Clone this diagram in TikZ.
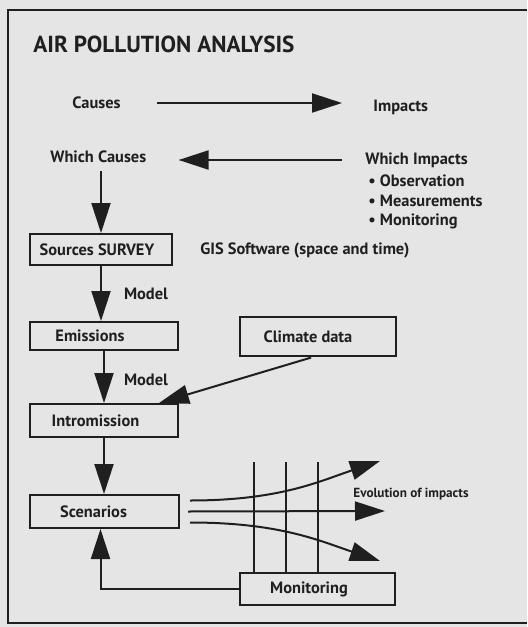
\documentclass[tikz,border=0pt]{standalone}
\usepackage{fontspec}
\setmainfont{PT Sans}
\usetikzlibrary{arrows.meta,positioning}
\definecolor{paper}{gray}{0.9}
\definecolor{ink}{gray}{0.12}
\newcommand\ttlfont{\bfseries\fontsize{11.6}{14}\selectfont}
\newcommand\lblfont{\bfseries\fontsize{8.2}{10}\selectfont}
\newcommand\smlfont{\bfseries\fontsize{6.6}{8}\selectfont}

\begin{document}
\begin{tikzpicture}[x=0.5pt, y=-0.5pt, color=ink,
  my box/.style={draw, line width=1pt, inner sep=0pt, font=\lblfont, execute at end node={\hspace*{#1}}},
  my box/.default=10pt,
  my label/.style={anchor=west, inner sep=0pt, font=\lblfont},
  my arrow/.style={line width=1pt, -{Triangle[length=15pt,width=9.5pt]}}]
  \fill [paper] (0,0) rectangle (527,627);
  \useasboundingbox (0,0) rectangle (527,627);
  \draw [line width=1.3pt] (527,10) -- (8,10) -- (8,623) -- (527,623);
  \node (title) [anchor=west, inner sep=0pt, font=\ttlfont] at (33,44) {AIR POLLUTION ANALYSIS};
  \node (causes) [my label] at (72,103) {Causes};
  \node (impacts) [my label] at (373,107) {Impacts};
  \node (which causes) [my label] at (50,157) {Which Causes};
  \node (which impacts) [my label] at (365,160) {Which Impacts};
  \node (observation) [my label] at (368,181) {• Observation};
  \node (measurements) [my label] at (368,201) {• Measurements};
  \node (monitoring item) [my label] at (368,221) {• Monitoring};
  \node (sources) [my box=4pt, minimum width=71pt, minimum height=15.5pt] at (101,249.5) {Sources SURVEY};
  \node (gis) [my label] at (200,250) {GIS Software (space and time)};
  \node (emissions) [my box=14pt, minimum width=74pt, minimum height=14pt] at (104,336) {Emissions};
  \node (climate) [my box, minimum width=78pt, minimum height=19.5pt] at (318,336.5) {Climate data};
  \node (intromission) [my box=8.5pt, minimum width=74pt, minimum height=16.5pt] at (104,420.5) {Intromission};
  \node (scenarios) [my box=11pt, minimum width=74.5pt, minimum height=16.5pt] at (104.5,511.5) {Scenarios};
  \node (monitoring) [my box=8.5pt, minimum width=77.5pt, minimum height=16pt] at (317.5,589) {Monitoring};
  \node (evolution) [anchor=west, inner sep=0pt, font=\smlfont] at (353,494) {Evolution of impacts};
  \coordinate (evo up) at (380,461);
  \coordinate (evo mid) at (385,511);
  \coordinate (evo down) at (380,561);
  % causes and impacts
  \draw [my arrow, shorten <=18pt, shorten >=15.5pt] (causes.east) -- (causes.east -| impacts.west);
  \draw [my arrow, shorten <=11.5pt, shorten >=16pt] (which impacts.west) -- (which impacts.west -| which causes.east);
  % main chain
  \draw [my arrow, shorten <=4pt] (sources.north |- which causes.south) -- (sources.north);
  \draw [my arrow] (sources.south) -- (sources.south |- emissions.north) node [my label, midway, xshift=11pt] {Model};
  \draw [my arrow] (emissions.south) -- (emissions.south |- intromission.north) node [my label, pos=0.55, xshift=9.5pt] {Model};
  \draw [my arrow, shorten <=1pt] ([xshift=-2.5pt]climate.south) -- ([xshift=-10pt]intromission.north east);
  \draw [my arrow] (intromission.south) -- (intromission.south |- scenarios.north);
  \draw [my arrow] (monitoring.west) -| ([xshift=-2pt]scenarios.south);
  % evolution of impacts
  \foreach \dx in {15,47,79}
    \draw [line width=1pt] (monitoring.north west) ++(\dx,0) -- ++(0,-110);
  \draw [my arrow] ([yshift=5.5pt]scenarios.east) ++(10,0) .. controls +(90,0) and +(-60,20) .. (evo up);
  \draw [my arrow] (scenarios.east) ++(8,0) -- (evo mid);
  \draw [my arrow] ([yshift=-5.5pt]scenarios.east) ++(10,0) .. controls +(90,0) and +(-60,-20) .. (evo down);
\end{tikzpicture}
\end{document}
